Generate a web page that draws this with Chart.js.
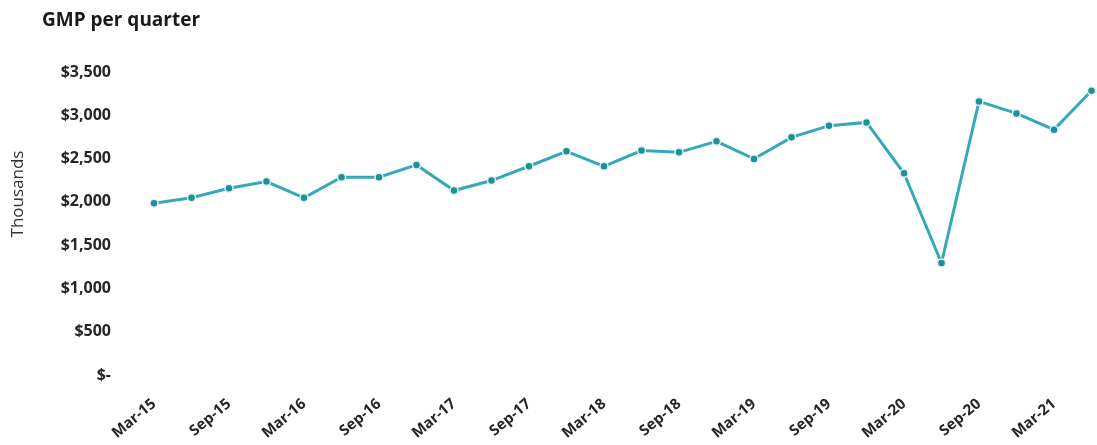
<!DOCTYPE html>
<html>
<head>
<meta charset="utf-8">
<script src="https://cdn.jsdelivr.net/npm/chart.js@4"></script>
<style>
  html, body { margin: 0; padding: 0; background: #fff; }
  #wrap { width: 1097px; height: 445px; }
</style>
</head>
<body>
<div id="wrap"><canvas id="myChart" width="1097" height="445"></canvas></div>
<script>
// Quarters, Mar-15 to Jun-21
let quarters = [
    "Mar-15", "Jun-15", "Sep-15", "Dec-15",
    "Mar-16", "Jun-16", "Sep-16", "Dec-16",
    "Mar-17", "Jun-17", "Sep-17", "Dec-17",
    "Mar-18", "Jun-18", "Sep-18", "Dec-18",
    "Mar-19", "Jun-19", "Sep-19", "Dec-19",
    "Mar-20", "Jun-20", "Sep-20", "Dec-20",
    "Mar-21", "Jun-21"
];

// GMP per quarter, thousands of dollars
let gmpValues = [
    1985, 2047, 2158, 2235,
    2047, 2284, 2284, 2427,
    2131, 2246, 2411, 2584,
    2411, 2592, 2572, 2699,
    2496, 2745, 2880, 2918,
    2330, 1294, 3160, 3022,
    2834, 3283
];

// Y axis ticks
let yTicks = [0, 500, 1000, 1500, 2000, 2500, 3000, 3500];

// Title and the rotated "Thousands" label
const textPlugin = {
    id: 'extraText',
    afterDraw(chart) {
        const c = chart.ctx;
        c.save();
        c.fillStyle = '#1a1a1a';
        c.font = 'bold 19px "Open Sans"';
        c.textBaseline = 'middle';
        c.textAlign = 'left';
        c.fillText('GMP per quarter', 42, 21);

        c.fillStyle = '#333';
        c.font = '17px "Open Sans"';
        c.translate(18, 194);
        c.rotate(-Math.PI / 2);
        c.textAlign = 'center';
        c.fillText('Thousands', 0, 0);
        c.restore();
    }
};

const ctx = document.getElementById('myChart').getContext('2d');
const chart = new Chart(ctx, {
    type: 'line',
    data: {
        labels: quarters,
        datasets: [{
            label: 'GMP',
            data: gmpValues,
            borderColor: '#35a9ba',
            borderWidth: 3,
            pointRadius: 4,
            pointBackgroundColor: '#1f8f99',
            pointBorderColor: '#dff1f3',
            pointBorderWidth: 1.5,
            tension: 0
        }]
    },
    options: {
        responsive: false,
        animation: false,
        layout: {
            padding: { top: 72, right: 5, left: 0, bottom: 0 }
        },
        plugins: {
            legend: { display: false },
            title: { display: false },
            tooltip: { enabled: false }
        },
        scales: {
            x: {
                offset: false,
                grid: { display: false, drawTicks: false },
                border: { display: false },
                ticks: {
                    autoSkip: false,
                    minRotation: 40,
                    maxRotation: 40,
                    padding: 20,
                    color: '#262626',
                    font: { family: 'Open Sans', weight: 'bold', size: 15 },
                    callback: function(value, index) {
                        return index % 2 === 0 ? quarters[index] : '';
                    }
                },
                afterFit: function(scale) {
                    scale.height = 70;
                    scale.paddingLeft = 0;
                    scale.paddingRight = 0;
                }
            },
            y: {
                min: 0,
                max: 3500,
                grid: { display: false, drawTicks: false },
                border: { display: false },
                afterBuildTicks: function(scale) {
                    scale.ticks = yTicks.map(v => ({ value: v }));
                },
                ticks: {
                    padding: 43,
                    color: '#262626',
                    font: { family: 'Open Sans', weight: 'bold', size: 16 },
                    callback: function(value) {
                        return value === 0 ? '$-' : '$' + value.toLocaleString('en-US');
                    }
                },
                afterFit: function(scale) {
                    scale.width = 154;
                }
            }
        }
    },
    plugins: [textPlugin]
});
</script>
</body>
</html>
